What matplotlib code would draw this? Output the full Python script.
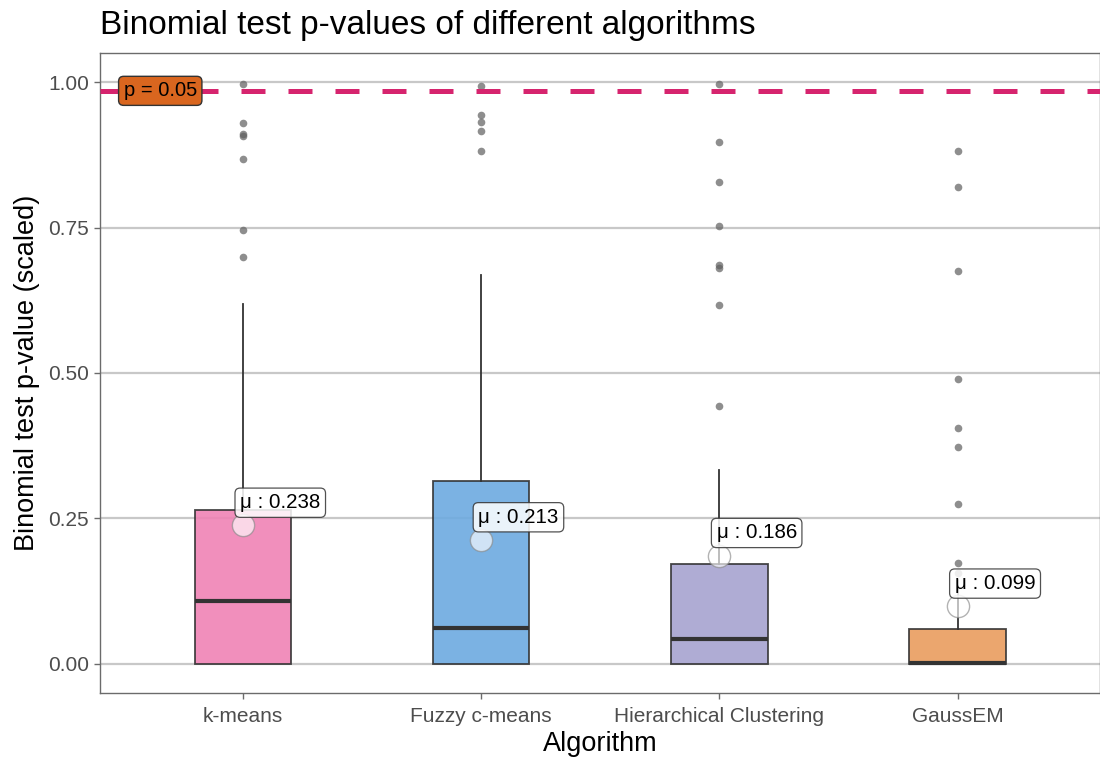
import matplotlib
matplotlib.use("Agg")
import matplotlib.pyplot as plt

# ==========================================================
# Data (scaled p-values)
# ==========================================================

algorithms = ["k-means", "Fuzzy c-means", "Hierarchical Clustering", "GaussEM"]
box_colors = ["#F083B5", "#6DAAE0", "#A6A3D0", "#E99C5E"]

q1 = [0.0, 0.0, 0.0, 0.0]
medians = [0.108, 0.062, 0.043, 0.001]
q3 = [0.265, 0.315, 0.171, 0.060]
whisker_lo = [0.0, 0.0, 0.0, 0.0]
whisker_hi = [0.619, 0.668, 0.333, 0.145]
means = [0.238, 0.213, 0.186, 0.099]

outliers = [
    [0.996, 0.929, 0.910, 0.908, 0.867, 0.745, 0.700],
    [0.993, 0.944, 0.931, 0.916, 0.882],
    [0.996, 0.897, 0.829, 0.752, 0.686, 0.680, 0.617, 0.443],
    [0.882, 0.820, 0.675, 0.490, 0.405, 0.373, 0.275, 0.173, 0.157],
]

threshold = 0.985
threshold_label = "p = 0.05"

# ==========================================================
# Figure
# ==========================================================

plt.rcParams["font.family"] = ["Liberation Sans", "DejaVu Sans"]

fig = plt.figure(figsize=(11, 7.62), dpi=100)
ax = fig.add_axes([0.0909, 0.0906, 0.9095, 0.8398])

positions = list(range(1, len(algorithms) + 1))

stats = []
for i in range(len(algorithms)):
    stats.append({
        "label": algorithms[i],
        "q1": q1[i],
        "med": medians[i],
        "q3": q3[i],
        "whislo": whisker_lo[i],
        "whishi": whisker_hi[i],
        "fliers": [],
    })

bp = ax.bxp(
    stats,
    positions=positions,
    widths=0.405,
    patch_artist=True,
    showcaps=False,
    showfliers=False,
    boxprops=dict(edgecolor="#333333", linewidth=1.3),
    medianprops=dict(color="#333333", linewidth=3.0),
    whiskerprops=dict(color="#333333", linewidth=1.3),
    zorder=3,
)

for patch, col in zip(bp["boxes"], box_colors):
    patch.set_facecolor(col)
    patch.set_alpha(0.9)
    patch.set_edgecolor("#333333")

# outlier points
for pos, pts in zip(positions, outliers):
    ax.plot([pos] * len(pts), pts, "o", color="#5f5f5f", alpha=0.7,
            markersize=5.5, markeredgewidth=0, zorder=4)

# threshold line
ax.axhline(threshold, color="#D6246E", linewidth=3.6,
           linestyle=(0, (4.8, 4.6)), zorder=5)
ax.text(0.653, threshold, threshold_label, ha="center", va="center",
        fontsize=14.5, color="black", zorder=6,
        bbox=dict(boxstyle="round,pad=0.25", facecolor="#D9661F",
                  edgecolor="#333333", linewidth=1.0))

# means + labels
ax.plot(positions, means, "o", markersize=16, markerfacecolor="white",
        markeredgecolor="#8a8a8a", markeredgewidth=1.0, alpha=0.65, zorder=6)
for pos, m in zip(positions, means):
    ax.annotate(
        f"\u03bc : {m:.3f}",
        xy=(pos, m), xytext=(-2, 9.5), textcoords="offset points",
        ha="left", va="bottom", fontsize=14.8, color="black", zorder=7,
        bbox=dict(boxstyle="round,pad=0.25", facecolor="white",
                  edgecolor="#333333", linewidth=0.9, alpha=0.85),
    )

# ==========================================================
# Axes styling
# ==========================================================

ax.set_xlim(0.4, 4.6)
ax.set_ylim(-0.05, 1.05)
ax.set_yticks([0.0, 0.25, 0.5, 0.75, 1.0])
ax.set_yticklabels(["0.00", "0.25", "0.50", "0.75", "1.00"])
ax.set_xticks(positions)
ax.set_xticklabels(algorithms)

ax.grid(axis="y", color="#c8c8c8", linewidth=1.6, zorder=0)
ax.set_axisbelow(True)

for side in ["left", "right", "top", "bottom"]:
    ax.spines[side].set_color("#6b6b6b")
    ax.spines[side].set_linewidth(1.0)

ax.tick_params(axis="both", colors="#6b6b6b", length=4, width=1.0,
               labelsize=15, labelcolor="#4D4D4D")
ax.tick_params(axis="x", pad=6)
ax.tick_params(axis="y", pad=4)

ax.set_xlabel("Algorithm", fontsize=19.5, color="black", labelpad=4)
ax.set_ylabel("Binomial test p-value (scaled)", fontsize=19.5,
              color="black", labelpad=6)
ax.set_title("Binomial test p-values of different algorithms",
             fontsize=24, loc="left", x=0.0, pad=14)

fig.savefig("out.png", dpi=100)
